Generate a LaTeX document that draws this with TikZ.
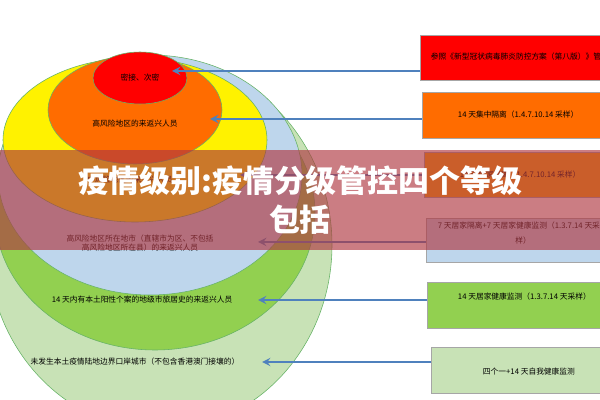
\documentclass[tikz,border=0pt]{standalone}
\usepackage{fontspec}
\setmainfont{Noto Sans CJK SC}
\usetikzlibrary{positioning}
\definecolor{lgreen}{RGB}{200,226,182}
\definecolor{mgreen}{RGB}{146,208,80}
\definecolor{lblue}{RGB}{190,214,236}
\definecolor{orng}{RGB}{255,108,0}
\definecolor{banner}{RGB}{175,55,65}
\definecolor{steel}{RGB}{79,129,189}
\tikzset{
  ring/.style={draw=green!50!black!60,line width=0.4pt},
  box/.style={draw=gray!70,line width=0.4pt,anchor=north west,inner sep=0,
    minimum width=190*0.025cm},
  lab/.style={font=\fontsize{5.5}{6.5}\selectfont,align=center},
  link/.style={draw=steel,line width=1.6pt,-stealth}
}
\begin{document}
\begin{tikzpicture}[x=0.025cm,y=-0.025cm]
\useasboundingbox (0,0) rectangle (600,400);
\clip (0,0) rectangle (600,400);
% rings
\fill[lgreen,ring] (160,245) ellipse (172 and 185);
\fill[mgreen,ring] (155,213) ellipse (160 and 137);
\fill[lblue,ring] (150,175) ellipse (152 and 120);
\fill[yellow,ring] (135,140) ellipse (132 and 82);
\fill[orng,ring] (135,110) ellipse (87 and 54);
\fill[red,ring] (140,78) ellipse (47 and 26);
\node[lab] (t1) at (140,78) {密接、次密};
\node[lab] (t2) at (135,124) {高风险地区的来返兴人员};
\node[lab] (t3) at (130,180) {中风险地区的来返兴人员};
\node[lab] (t4) at (140,243) {高风险地区所在地市（直辖市为区、不包括\\高风险地区所在县）的来返兴人员};
\node[lab] (t5) at (142,300) {14 天内有本土阳性个案的地级市旅居史的来返兴人员};
\node[lab] (t6) at (135,362) {未发生本土疫情陆地边界口岸城市（不包含香港澳门接壤的）};
% boxes
\node[box,fill=red,minimum height=45*0.025cm] (b1) at (420,35) {};
\node[box,fill=orng,minimum height=46*0.025cm] (b2) at (422,92) {};
\node[box,fill=orng!60!yellow,minimum height=45*0.025cm] (b3) at (424,152) {};
\node[box,fill=lblue,minimum height=44*0.025cm] (b4) at (426,218) {};
\node[box,fill=mgreen,minimum height=46*0.025cm] (b5) at (427,282) {};
\node[box,fill=lgreen,minimum height=46*0.025cm] (b6) at (431,347) {};
\node[lab,anchor=west] at (426,57) {参照《新型冠状病毒肺炎防控方案（第八版）》管理};
\node[lab,anchor=west] at (453,115) {14 天集中隔离（1.4.7.10.14 采样）};
\node[lab,anchor=west] at (455,175) {14 天居家隔离（1.4.7.10.14 采样）};
\node[lab,anchor=west] at (433,226) {7 天居家隔离+7 天居家健康监测（1.3.7.14 天采};
\node[lab] at (523,241) {样）};
\node[lab,anchor=west] at (453,297) {14 天居家健康监测（1.3.7.14 天采样）};
\node[lab,anchor=west] at (478,372) {四个一+14 天自我健康监测};
% links
\coordinate (e1) at (172,71);
\coordinate (e2) at (210,119);
\coordinate (e3) at (240,175);
\coordinate (e4) at (258,242);
\coordinate (e5) at (258,300);
\coordinate (e6) at (262,362);
\path[link] (b1.west|-0,71) -- (e1);
\path[link] (b2.west|-0,119) -- (e2);
\path[link] (b3.west|-0,175) -- (e3);
\path[link] (b4.west|-0,242) -- (e4);
\path[link] (b5.west|-0,300) -- (e5);
\path[link] (b6.west|-0,362) -- (e6);
% banner
\fill[banner,opacity=0.65] (0,150) rectangle (600,250);
\node[text=white,font=\fontsize{22}{28}\selectfont\bfseries,align=center] (title) at (300,200) {疫情级别:疫情分级管控四个等级\\包括};
\end{tikzpicture}
\end{document}
